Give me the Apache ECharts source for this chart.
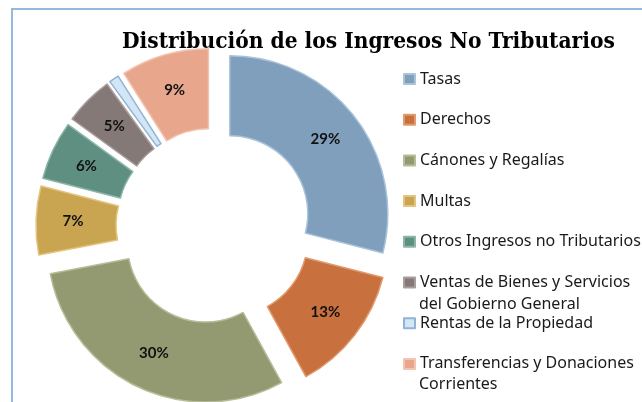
<!DOCTYPE html>
<html>
<head>
<meta charset="utf-8">
<script src="https://cdn.jsdelivr.net/npm/echarts@6/dist/echarts.min.js"></script>
<style>
  html, body { margin: 0; padding: 0; background: #fff; }
  #main { width: 642px; height: 402px; }
</style>
</head>
<body>
<div id="main"></div>
<script>
const categories = [
  "Tasas",
  "Derechos",
  "Cánones y Regalías",
  "Multas",
  "Otros Ingresos no Tributarios",
  "Ventas de Bienes y Servicios del Gobierno General",
  "Rentas de la Propiedad",
  "Transferencias y Donaciones Corrientes"
];
const shares = [29, 13, 30, 7, 6, 5, 1, 9];
const colors = ["#7f9fbc", "#c8703e", "#939971", "#c9a552", "#5f8f80", "#857978", "#d3e6f5", "#e8a68d"];
const edges = ["#a9c3da", "#e09a6c", "#b7bd98", "#e2c47e", "#8ab5a8", "#a99e9d", "#8fb4d6", "#f3c4b1"];

// first line shown in the legend, the rest goes below
const firstLine = {
  "Ventas de Bienes y Servicios del Gobierno General": "Ventas de Bienes y Servicios",
  "Transferencias y Donaciones Corrientes": "Transferencias y Donaciones"
};

const chart = echarts.init(document.getElementById("main"));

chart.setOption({
  animation: false,
  title: {
    text: "Distribución de los Ingresos No Tributarios",
    left: 117,
    top: 26,
    textStyle: {
      fontFamily: "DejaVu Serif Condensed",
      fontWeight: "bold",
      fontSize: 22.5,
      color: "#000"
    }
  },
  legend: {
    orient: "vertical",
    left: 398,
    top: 64,
    itemWidth: 11,
    itemHeight: 10,
    itemGap: 20.7,
    icon: "rect",
    selectedMode: false,
    data: categories,
    formatter: name => firstLine[name] || name,
    textStyle: {
      fontFamily: "Noto Sans",
      fontSize: 16,
      lineHeight: 20,
      color: "#1a1a1a"
    }
  },
  graphic: [
    {
      type: "rect",
      shape: { x: 12, y: 9, width: 700, height: 500 },
      style: { fill: "none", stroke: "#95b9d9", lineWidth: 2 },
      silent: true
    },
    {
      type: "text",
      left: 419,
      top: 296,
      style: { text: "del Gobierno General", font: "16px 'Noto Sans'", fill: "#1a1a1a" }
    },
    {
      type: "text",
      left: 419,
      top: 376,
      style: { text: "Corrientes", font: "16px 'Noto Sans'", fill: "#1a1a1a" }
    }
  ],
  series: [
    {
      type: "pie",
      center: [214, 226],
      radius: [78, 158],
      startAngle: 90,
      clockwise: true,
      selectedMode: "multiple",
      selectedOffset: 20,
      avoidLabelOverlap: false,
      label: {
        show: true,
        position: "inside",
        formatter: "{d}%",
        fontFamily: "Lato",
        fontWeight: "bold",
        fontSize: 15,
        color: "#111"
      },
      labelLine: { show: false },
      emphasis: { disabled: true },
      data: categories.map((name, i) => ({
        name: name,
        value: shares[i],
        selected: true,
        itemStyle: { color: colors[i], borderColor: edges[i], borderWidth: 1.5 }
      }))
    }
  ]
});
</script>
</body>
</html>
